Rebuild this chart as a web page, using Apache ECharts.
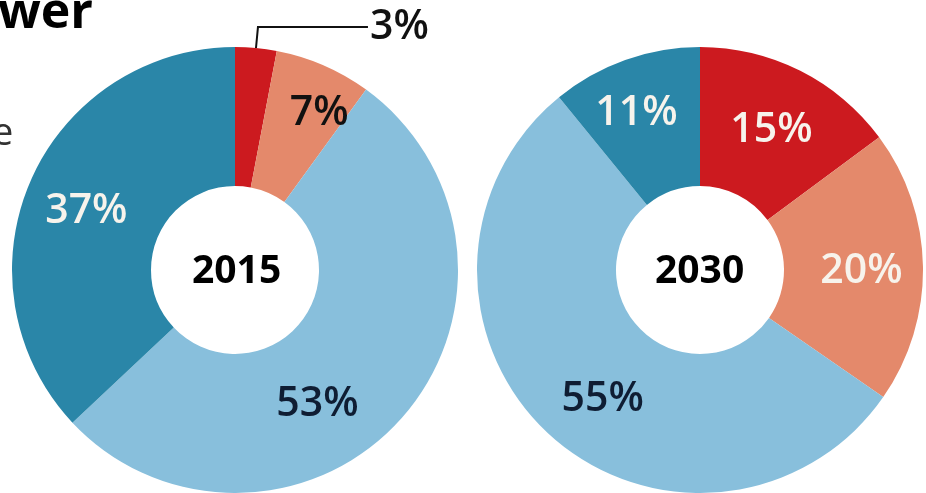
<!DOCTYPE html>
<html>
<head>
<meta charset="utf-8">
<style>
  html, body { margin: 0; padding: 0; background: #fff; }
  #chart { width: 926px; height: 493px; }
</style>
<script src="https://cdn.jsdelivr.net/npm/echarts@6/dist/echarts.min.js"></script>
</head>
<body>
<div id="chart"></div>
<script>
    'use strict';

    // share of each source, clockwise from 12 o'clock
    var years = ['2015', '2030'];
    var share2015 = [3, 7, 53, 37];
    var share2030 = [15, 20, 55, 11];
    var colors2015 = ['#cc1a1f', '#e4896b', '#88bfdc', '#2a86a8'];
    var colors2030 = ['#cc1a1f', '#e4896b', '#88bfdc', '#2a86a8'];

    var FONT = '"Open Sans", "Noto Sans", sans-serif';
    var WHITE = '#f7f3ec';
    var NAVY = '#0f1d33';

    // label tweaks per slice (offset from the slice centre, text colour)
    var labels2015 = [
        { outside: true },
        { color: '#111', offset: [22, -13] },
        { color: NAVY, offset: [-35, 31] },
        { color: WHITE, offset: [-5, 3] }
    ];
    var labels2030 = [
        { color: WHITE, offset: [1, 0] },
        { color: WHITE, offset: [5, 4] },
        { color: NAVY, offset: [9, 14] },
        { color: WHITE, offset: [-11, -9] }
    ];

    function buildData(values, cols, labs) {
        var out = [];
        for (var i = 0; i < values.length; i++) {
            var item = {
                value: values[i],
                itemStyle: { color: cols[i] }
            };
            if (labs[i].outside) {
                item.label = {
                    position: 'outside',
                    color: '#111',
                    distanceToLabelLine: 2,
                    padding: [4, 0, 0, 0]
                };
                item.labelLine = {
                    show: true,
                    length: 21,
                    length2: 110,
                    lineStyle: { color: '#111', width: 2 }
                };
            } else {
                item.label = {
                    position: 'inside',
                    color: labs[i].color,
                    offset: labs[i].offset
                };
            }
            out.push(item);
        }
        return out;
    }

    function pieSeries(center, values, cols, labs) {
        return {
            type: 'pie',
            center: center,
            radius: [84, 223],
            startAngle: 90,
            clockwise: true,
            avoidLabelOverlap: false,
            silent: true,
            animation: false,
            label: {
                show: true,
                formatter: '{c}%',
                fontFamily: FONT,
                fontSize: 41,
                fontWeight: 600
            },
            labelLine: { show: false },
            data: buildData(values, cols, labs)
        };
    }

    var myChart = echarts.init(document.getElementById('chart'));
    var option = {
        backgroundColor: '#ffffff',
        graphic: [
            { type: 'text', left: -2, top: -11, style: { text: 'wer', font: 'bold 50px ' + FONT, fill: '#000' } },
            { type: 'text', left: -8, top: 115, style: { text: 'e', font: '38px ' + FONT, fill: '#333' } },
            { type: 'text', left: 192, top: 252, style: { text: years[0], font: 'bold 39px ' + FONT, fill: '#000' } },
            { type: 'text', left: 655, top: 252, style: { text: years[1], font: 'bold 39px ' + FONT, fill: '#000' } }
        ],
        series: [
            pieSeries([235, 270], share2015, colors2015, labels2015),
            pieSeries([700, 270], share2030, colors2030, labels2030)
        ]
    };
    myChart.setOption(option);
</script>
</body>
</html>
